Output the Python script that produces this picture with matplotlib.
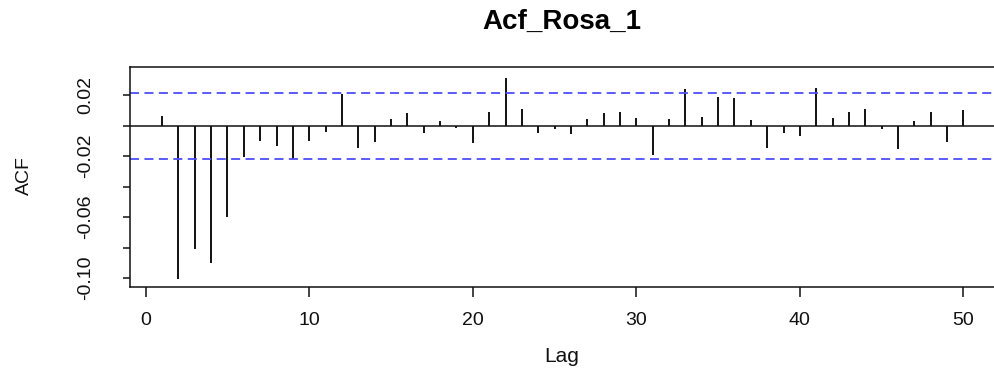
import matplotlib
matplotlib.use("Agg")
import matplotlib.pyplot as plt
import numpy as np

plt.rcParams['font.family'] = ['Liberation Sans', 'DejaVu Sans']

title = "Acf_Rosa_1"
lags = list(range(1, 51))
acf_values = [
    0.0066, -0.1005, -0.0809, -0.0900, -0.0601, -0.0203, -0.0098, -0.0136, -0.0219, -0.0098,
    -0.0044, 0.0205, -0.0149, -0.0107, 0.0044, 0.0081, -0.0046, 0.0031, -0.0013, -0.0116,
    0.0087, 0.0310, 0.0107, -0.0050, -0.0020, -0.0052, 0.0044, 0.0081, 0.0087, 0.0050,
    -0.0190, 0.0044, 0.0238, 0.0057, 0.0190, 0.0181, 0.0035, -0.0149, -0.0050, -0.0066,
    0.0247, 0.0050, 0.0087, 0.0107, -0.0020, -0.0155, 0.0031, 0.0087, -0.0107, 0.0100,
]
conf_limit = 0.0216
xticks = [0, 10, 20, 30, 40, 50]
yticks = [-0.10, -0.08, -0.06, -0.04, -0.02, 0.0, 0.02]
ytick_labels = ["-0.10", "", "-0.06", "", "-0.02", "", "0.02"]

fig = plt.figure(figsize=(9.95, 3.74), dpi=100)
ax = fig.add_axes([130/995, 1 - 286.7/374, (995.5 - 130)/995, (286.7 - 66.7)/374])

ax.vlines(lags, 0, acf_values, color="#111111", lw=1.4)
ax.axhline(0, color="#111111", lw=1.1)
ax.axhline(conf_limit, color="#4d4dff", lw=1.3, dashes=(5, 3))
ax.axhline(-conf_limit, color="#4d4dff", lw=1.3, dashes=(5, 3))

ax.set_xlim(-0.96, 51.96)
ax.set_ylim(-0.1056, 0.0387)

ax.set_xticks(xticks)
ax.set_xticklabels([str(t) for t in xticks])
ax.set_yticks(yticks)
ax.set_yticklabels(ytick_labels, rotation=90, va="center")

ax.tick_params(axis="x", length=7, width=1.1, pad=11, labelsize=14, colors="#111111")
ax.tick_params(axis="y", length=5, width=1.1, pad=21, labelsize=14, colors="#111111")

for s in ax.spines.values():
    s.set_linewidth(1.1)
    s.set_color("#111111")

fig.text(562/995, 1 - 22/374, title, ha="center", va="center",
         fontsize=20, fontweight="bold", color="#000000")
fig.text(562/995, 1 - 356/374, "Lag", ha="center", va="center", fontsize=15, color="#111111")
fig.text(24/995, 1 - 176/374, "ACF", ha="center", va="center", rotation=90,
         fontsize=14, color="#111111")

fig.savefig("out.png", dpi=100)
